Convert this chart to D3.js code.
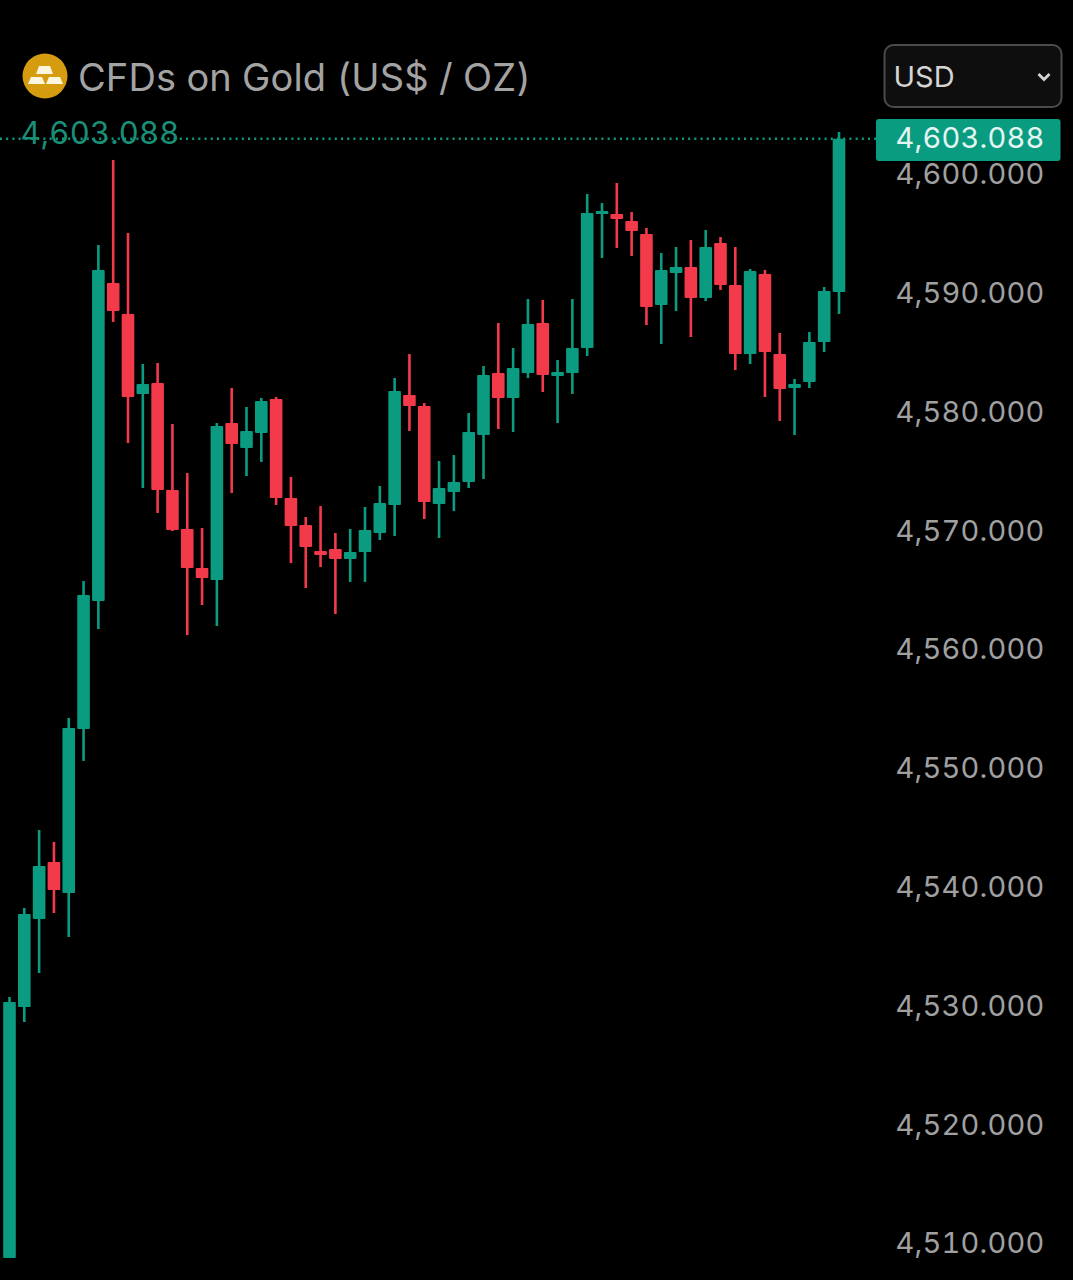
<!DOCTYPE html>
<html>
<head>
<meta charset="utf-8">
<script src="https://cdn.jsdelivr.net/npm/d3@7"></script>
<style>
	html, body { margin: 0; padding: 0; background: #000; overflow: hidden; }
	text { font-family: Inter, "Noto Sans", sans-serif; font-variant-numeric: tabular-nums; }
</style>
</head>
<body>
<script>
const title = "CFDs on Gold (US$ / OZ)";
const currency = "USD";
const lastPrice = 4603.088;
const tickValues = [4600, 4590, 4580, 4570, 4560, 4550, 4540, 4530, 4520, 4510];

const opens = [4508.86,4529.99,4537.40,4542.20,4539.59,4553.40,4564.18,4590.95,4588.34,4581.61,4582.53,4573.52,4570.24,4566.96,4565.95,4579.16,4577.06,4578.32,4581.18,4572.85,4570.58,4568.39,4568.55,4567.71,4568.30,4569.90,4572.26,4581.52,4580.59,4572.34,4573.35,4574.20,4578.15,4583.37,4581.27,4583.37,4587.58,4583.12,4583.37,4585.48,4596.76,4596.76,4596.17,4595.07,4589.10,4591.79,4592.30,4589.69,4594.32,4590.78,4584.97,4591.71,4584.97,4582.11,4582.62,4585.98,4590.19];
const highs = [4530.84,4538.33,4544.90,4543.89,4554.33,4565.86,4594.15,4601.31,4595.16,4584.13,4584.21,4579.08,4574.95,4570.32,4579.16,4582.11,4580.51,4581.27,4581.35,4574.62,4571.25,4572.17,4569.90,4570.24,4572.09,4573.86,4582.95,4584.97,4580.85,4575.96,4576.47,4580.00,4583.96,4587.58,4585.48,4589.60,4589.52,4584.47,4589.60,4598.44,4597.68,4599.37,4596.93,4595.58,4593.47,4593.98,4594.57,4595.41,4594.82,4593.98,4592.13,4592.05,4586.74,4582.87,4586.82,4590.61,4603.66];
const lows = [4508.86,4528.73,4532.86,4537.91,4535.89,4550.71,4561.82,4587.67,4577.48,4573.69,4571.59,4570.07,4561.31,4563.84,4562.07,4573.27,4574.70,4575.88,4572.26,4567.37,4565.27,4567.04,4563.08,4565.78,4565.78,4569.31,4569.65,4578.49,4571.08,4569.48,4571.75,4573.69,4574.45,4578.66,4578.40,4582.95,4581.77,4579.16,4581.61,4584.80,4593.05,4593.90,4593.22,4587.41,4585.81,4588.59,4586.40,4589.43,4590.36,4583.62,4584.13,4581.35,4579.33,4578.15,4582.11,4585.14,4588.34];
const closes = [4530.42,4537.82,4541.87,4539.85,4553.48,4564.68,4592.05,4588.59,4581.35,4582.45,4573.52,4570.15,4566.96,4566.11,4578.91,4577.39,4578.49,4581.02,4572.85,4570.49,4568.72,4568.05,4567.71,4568.30,4570.15,4572.43,4581.86,4580.59,4572.51,4573.69,4574.20,4578.40,4583.20,4581.27,4583.79,4587.50,4583.20,4583.46,4585.48,4596.84,4597.01,4596.34,4595.33,4588.93,4592.05,4592.30,4589.69,4593.98,4590.78,4584.97,4591.96,4585.14,4582.03,4582.45,4585.98,4590.27,4603.09];

const width = 1073, height = 1280;
const upColor = "#0b9b80", downColor = "#f33a4b", axisColor = "#a0a0a0";

const x = d3.scaleLinear().domain([0, opens.length - 1]).range([9.5, 839]);
const y = d3.scaleLinear().domain([4510, 4600]).range([1244.5, 175.5]);
const bodyWidth = 12.6;

const svg = d3.select("body").append("svg")
	.attr("width", width)
	.attr("height", height)
	.style("display", "block");

// candles
const candles = svg.append("g").selectAll("g")
	.data(d3.range(opens.length))
	.enter().append("g")
		.attr("fill", i => closes[i] >= opens[i] ? upColor : downColor);
candles.append("rect")
	.attr("x", i => x(i) - 1.3)
	.attr("width", 2.6)
	.attr("y", i => y(highs[i]))
	.attr("height", i => y(lows[i]) - y(highs[i]));
candles.append("rect")
	.attr("x", i => x(i) - bodyWidth / 2)
	.attr("width", bodyWidth)
	.attr("rx", 1)
	.attr("y", i => y(Math.max(opens[i], closes[i])))
	.attr("height", i => Math.abs(y(opens[i]) - y(closes[i])));

// last price line
svg.append("line")
	.attr("x1", 0)
	.attr("x2", 876)
	.attr("y1", y(lastPrice))
	.attr("y2", y(lastPrice))
	.attr("stroke", upColor)
	.attr("stroke-width", 2.6)
	.attr("stroke-dasharray", "2 4.2");

const priceFormat = d3.format(",.3f");

// price axis
const axis = svg.append("g")
	.attr("transform", "translate(1044.5,0)")
	.call(d3.axisLeft(y).tickValues(tickValues).tickSize(0).tickPadding(0).tickFormat(priceFormat));
axis.select(".domain").remove();
axis.selectAll("text")
	.attr("dy", "0.32em")
	.attr("y", -1)
	.style("font-family", "Inter, 'Noto Sans', sans-serif")
	.style("font-size", "29px")
	.style("letter-spacing", "0.2px")
	.attr("fill", axisColor);

// last price tag
svg.append("rect")
	.attr("x", 876).attr("y", 119)
	.attr("width", 184.5).attr("height", 42)
	.attr("rx", 3)
	.attr("fill", "#0a9c80");
svg.append("text")
	.attr("x", 1044.5).attr("y", y(lastPrice) - 1)
	.attr("dy", "0.36em")
	.attr("text-anchor", "end")
	.attr("font-size", 29)
	.attr("letter-spacing", 0.2)
	.attr("fill", "#e4f5f1")
	.text(priceFormat(lastPrice));
svg.append("text")
	.attr("x", 20.5).attr("y", 144)
	.attr("font-size", 31)
	.attr("letter-spacing", 0.2)
	.attr("fill", "#1a8f78")
	.text(priceFormat(lastPrice));

// header
const icon = svg.append("g").attr("transform", "translate(45,76)");
icon.append("circle").attr("r", 22.5).attr("fill", "#d59c10");
icon.selectAll("path")
	.data([
		"M-6,-10 L5,-10 L8,-2 L-9,-2 Z",
		"M-14,1 L-3,1 L0,8 L-17,8 Z",
		"M4,1 L15,1 L18,8 L1,8 Z"
	])
	.enter().append("path")
		.attr("d", d => d)
		.attr("fill", "#fdf6df");

svg.append("text")
	.attr("x", 78).attr("y", 91)
	.attr("font-size", 38)
	.attr("letter-spacing", 0.1)
	.attr("fill", "#a3a3a3")
	.text(title);

svg.append("rect")
	.attr("x", 884.5).attr("y", 45)
	.attr("width", 177).attr("height", 62)
	.attr("rx", 9)
	.attr("fill", "#0e0e0e")
	.attr("stroke", "#4b4b4b")
	.attr("stroke-width", 2);
svg.append("text")
	.attr("x", 893.5).attr("y", 87)
	.attr("font-size", 29)
	.attr("fill", "#d4d4d4")
	.text(currency);
svg.append("path")
	.attr("d", "M1038.5,74 L1044,79.5 L1049.5,74")
	.attr("fill", "none")
	.attr("stroke", "#d4d4d4")
	.attr("stroke-width", 2.8);
</script>
</body>
</html>
